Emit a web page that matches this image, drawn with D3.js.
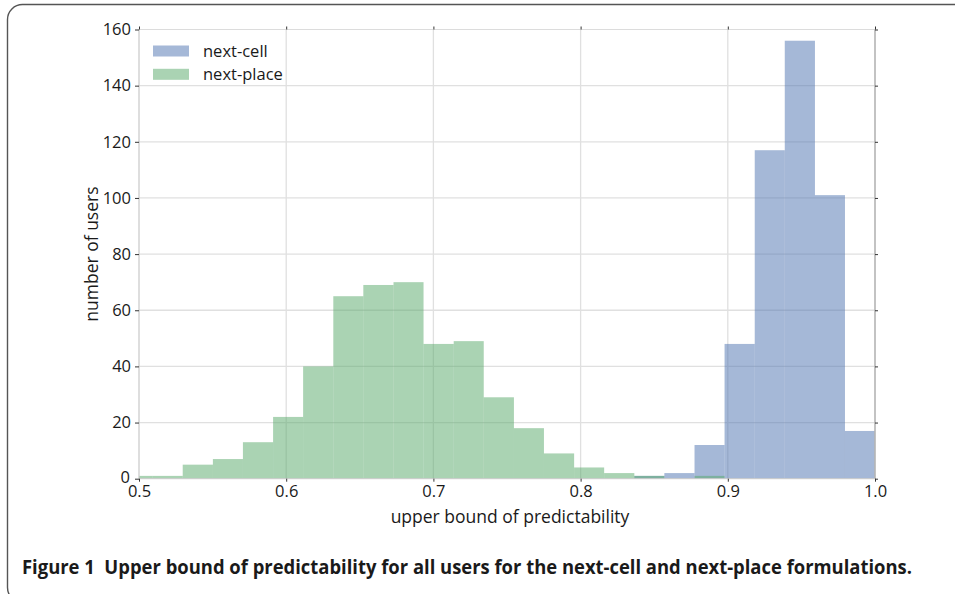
<!DOCTYPE html>
<html>
<head>
<meta charset="utf-8">
<script src="https://cdn.jsdelivr.net/npm/d3@7"></script>
<style>
  html, body { margin: 0; padding: 0; background: #fff; }
  svg { display: block; }
  text { font-family: "Open Sans", "DejaVu Sans", sans-serif; fill: #1a1a1a; }
</style>
</head>
<body>
<svg id="chart" width="955" height="594"></svg>
<script>
// Histogram bin edges (shared by both series)
const binEdges = [0.4888, 0.5093, 0.5297, 0.5502, 0.5706, 0.5911, 0.6115, 0.6320, 0.6524,
  0.6729, 0.6933, 0.7138, 0.7342, 0.7547, 0.7751, 0.7956, 0.8160, 0.8365, 0.8569,
  0.8774, 0.8978, 0.9183, 0.9387, 0.9592, 0.9796, 1.0000];

// Number of users per bin
const nextCell  = [0, 0, 0, 0, 0, 0, 0, 0, 0, 0, 0, 0, 0, 0, 0, 0, 0, 1, 2, 12, 48, 117, 156, 101, 17];
const nextPlace = [1, 1, 5, 7, 13, 22, 40, 65, 69, 70, 48, 49, 29, 18, 9, 4, 2, 1, 0, 1, 0, 0, 0, 0, 0];

const seriesNames  = ["next-cell", "next-place"];
const seriesColors = ["#4C72B0", "#55A868"];

const xTicks = [0.5, 0.6, 0.7, 0.8, 0.9, 1.0];
const yTicks = [0, 20, 40, 60, 80, 100, 120, 140, 160];

const xLabel = "upper bound of predictability";
const yLabel = "number of users";
const caption = "Figure 1  Upper bound of predictability for all users for the next-cell and next-place formulations.";

const svg = d3.select("#chart");

// Figure frame with rounded corners
svg.append("rect")
  .attr("x", 7.5).attr("y", 4.5)
  .attr("width", 980).attr("height", 598)
  .attr("rx", 15).attr("ry", 15)
  .attr("fill", "none").attr("stroke", "#555").attr("stroke-width", 1.4);

const plot = { left: 139, top: 29.5, right: 875, bottom: 478.7 };

const x = d3.scaleLinear().domain([0.5, 1.0]).range([plot.left, plot.right]);
const y = d3.scaleLinear().domain([0, 160]).range([plot.bottom, plot.top]);

svg.append("defs").append("clipPath").attr("id", "plotclip")
  .append("rect")
  .attr("x", plot.left).attr("y", plot.top)
  .attr("width", plot.right - plot.left).attr("height", plot.bottom - plot.top);

// Grid
const grid = svg.append("g");
grid.selectAll("line.gx").data(xTicks.slice(1, -1)).join("line")
  .attr("x1", d => x(d)).attr("x2", d => x(d))
  .attr("y1", plot.top).attr("y2", plot.bottom)
  .attr("stroke", "#e0e0e0").attr("stroke-width", 1.3);
grid.selectAll("line.gy").data(yTicks.slice(1, -1)).join("line")
  .attr("x1", plot.left).attr("x2", plot.right)
  .attr("y1", d => y(d)).attr("y2", d => y(d))
  .attr("stroke", "#e0e0e0").attr("stroke-width", 1.3);

// Histogram bars
const bars = svg.append("g").attr("clip-path", "url(#plotclip)");
[nextCell, nextPlace].forEach((counts, si) => {
  const bins = counts.map((c, i) => ({ x0: binEdges[i], x1: binEdges[i + 1], c }))
    .filter(b => b.c > 0);
  bars.append("g").selectAll("rect").data(bins).join("rect")
    .attr("x", d => x(d.x0))
    .attr("width", d => x(d.x1) - x(d.x0))
    .attr("y", d => y(d.c))
    .attr("height", d => y(0) - y(d.c))
    .attr("fill", seriesColors[si])
    .attr("fill-opacity", 0.5);
});

// Plot frame
const frame = svg.append("g");
frame.append("line").attr("x1", plot.left).attr("x2", plot.right).attr("y1", plot.top).attr("y2", plot.top)
  .attr("stroke", "#dcdcdc").attr("stroke-width", 1.2);
frame.append("line").attr("x1", plot.left).attr("x2", plot.left).attr("y1", plot.top).attr("y2", plot.bottom)
  .attr("stroke", "#c8c8c8").attr("stroke-width", 1.2);
frame.append("line").attr("x1", plot.right).attr("x2", plot.right).attr("y1", plot.top).attr("y2", plot.bottom)
  .attr("stroke", "#b4b4b4").attr("stroke-width", 1.6);
frame.append("line").attr("x1", plot.left).attr("x2", plot.right).attr("y1", plot.bottom).attr("y2", plot.bottom)
  .attr("stroke", "#c8c8c8").attr("stroke-width", 1);

// Axes
const tickFont = "16.5px";
const axB = svg.append("g").attr("transform", `translate(0,${plot.bottom})`)
  .call(d3.axisBottom(x).tickValues(xTicks).tickFormat(d3.format(".1f")).tickSizeInner(3).tickSizeOuter(0).tickPadding(4));
const axT = svg.append("g").attr("transform", `translate(0,${plot.top})`)
  .call(d3.axisTop(x).tickValues(xTicks).tickFormat("").tickSizeInner(3).tickSizeOuter(0));
const axL = svg.append("g").attr("transform", `translate(${plot.left},0)`)
  .call(d3.axisLeft(y).tickValues(yTicks).tickSizeInner(4).tickSizeOuter(0).tickPadding(4));
const axR = svg.append("g").attr("transform", `translate(${plot.right},0)`)
  .call(d3.axisRight(y).tickValues(yTicks).tickFormat("").tickSizeInner(3).tickSizeOuter(0));

[axB, axT, axL, axR].forEach(g => {
  g.select(".domain").remove();
  g.selectAll(".tick line").attr("stroke", "#333").attr("stroke-width", 1);
  g.selectAll(".tick text").style("font-family", "'Open Sans', sans-serif")
    .style("font-size", tickFont).attr("fill", "#1a1a1a");
});
// nudge the "0" label so it sits clear of the "0.5" label below it
axL.selectAll(".tick text").filter(d => d === 0).attr("dy", "0.22em").attr("x", -9);

// Axis titles
svg.append("text")
  .attr("x", (plot.left + plot.right) / 2 + 3).attr("y", 523)
  .attr("text-anchor", "middle").style("font-size", "17.5px")
  .text(xLabel);
svg.append("text")
  .attr("transform", `translate(98,${(plot.top + plot.bottom) / 2}) rotate(-90)`)
  .attr("text-anchor", "middle").style("font-size", "17.5px")
  .text(yLabel);

// Legend
const legend = svg.append("g").attr("transform", "translate(153,45.5)");
seriesNames.forEach((name, i) => {
  const g = legend.append("g").attr("transform", `translate(0,${i * 23.3})`);
  g.append("rect").attr("width", 36).attr("height", 11)
    .attr("fill", seriesColors[i]).attr("fill-opacity", 0.5);
  g.append("text").attr("x", 50).attr("y", 11.5).style("font-size", "16.5px").text(name);
});

// Caption
svg.append("text")
  .attr("x", 22).attr("y", 574)
  .attr("textLength", 890).attr("lengthAdjust", "spacingAndGlyphs")
  .style("font-size", "19px").style("font-weight", "bold")
  .attr("xml:space", "preserve")
  .text(caption);
</script>
</body>
</html>
